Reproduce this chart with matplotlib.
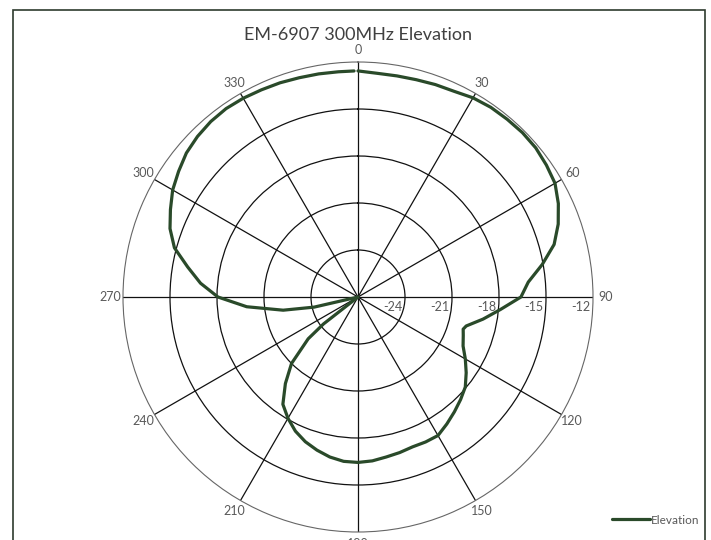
import matplotlib
matplotlib.use("Agg")
import matplotlib.pyplot as plt
import matplotlib.transforms as mtransforms
from matplotlib.patches import Rectangle
import numpy as np

plt.rcParams["font.family"] = ["Lato", "DejaVu Sans"]

# measured pattern (degrees, dB)
angle_deg = [0, 5, 10, 15, 20, 25, 30, 35, 40, 45, 50, 55, 60, 65, 70, 75, 80, 85,
             90, 95, 100, 105, 107, 110, 115, 120, 125, 130, 135, 140, 145, 150,
             155, 160, 165, 170, 175, 180, 185, 190, 195, 200, 205, 210, 215, 220,
             225, 230, 232, 233, 240, 245, 250, 256, 257, 260, 265, 270, 275, 280,
             285, 290, 295, 300, 305, 310, 315, 320, 325, 330, 335, 340, 345, 350,
             355, 359]
gain_db = [-12.57, -12.67, -12.67, -12.64, -12.57, -12.51, -12.32, -12.22, -12.19,
           -12.16, -12.19, -12.32, -12.48, -12.89, -13.40, -14.04, -15.06, -16.09,
           -16.60, -17.87, -18.89, -19.85, -19.98, -19.85, -19.60, -19.09, -18.57,
           -18.06, -17.74, -17.43, -17.11, -16.79, -16.79, -16.82, -16.72, -16.63,
           -16.50, -16.44, -16.47, -16.63, -16.88, -17.17, -17.55, -18.06, -18.64,
           -19.79, -21.00, -22.85, -24.20, -27.00, -27.00, -27.00, -27.00, -27.00,
           -24.13, -22.15, -19.87, -18.06, -16.91, -15.96, -14.87, -14.23, -13.79,
           -13.34, -13.02, -12.70, -12.51, -12.38, -12.32, -12.35, -12.41, -12.45,
           -12.51, -12.54, -12.57, -12.57]

spoke_deg = [0, 30, 60, 90, 120, 150, 180, 210, 240, 270, 300, 330]
spoke_labels = [str(a) for a in spoke_deg]
ring_db = [-24, -21, -18, -15, -12]
r_min, r_max = -27, -12

title = "EM-6907 300MHz Elevation"
series_name = "Elevation"

line_color = "#2a4a2a"
text_color = "#595959"

fig = plt.figure(figsize=(7.11, 5.40), dpi=100)
ax = fig.add_axes([123 / 711, 8 / 540, 470 / 711, 470 / 540], projection="polar")
ax.set_theta_zero_location("N")
ax.set_theta_direction(-1)
ax.set_ylim(r_min, r_max)

ax.plot(np.deg2rad(angle_deg), gain_db, color=line_color, lw=2.3,
        solid_capstyle="round", label=series_name, zorder=3)

ax.set_thetagrids(spoke_deg, spoke_labels)
ax.tick_params(axis="x", pad=-1.5, labelsize=9, labelcolor=text_color)
ax.set_yticks(ring_db[:-1])
ax.set_yticklabels([])
ax.grid(True, color="#111111", lw=0.9)
ax.spines["polar"].set_color("#666666")
ax.spines["polar"].set_linewidth(0.8)

# ring labels along the 90 degree spoke, just inside each ring
off = mtransforms.offset_copy(ax.transData, fig=fig, x=-2, y=-3, units="points")
for v in ring_db:
    ax.text(np.deg2rad(90), v, str(v), transform=off, ha="right", va="top",
            fontsize=9, color=text_color)

fig.text(358 / 711, 1 - 35 / 540, title, ha="center", va="center",
         fontsize=13, color="#404040")

fig.legend(loc="center left", bbox_to_anchor=(612 / 711, 1 - 520 / 540),
           frameon=False, handlelength=3.2, handletextpad=0.1, fontsize=8.5,
           labelcolor=text_color, borderaxespad=0, borderpad=0)

fig.patches.append(Rectangle((13 / 711, -0.1), 692 / 711, 1.1 - 10.5 / 540,
                             transform=fig.transFigure, fill=False,
                             edgecolor="#2e3b2e", lw=1.2))

fig.savefig("out.png", dpi=100)
